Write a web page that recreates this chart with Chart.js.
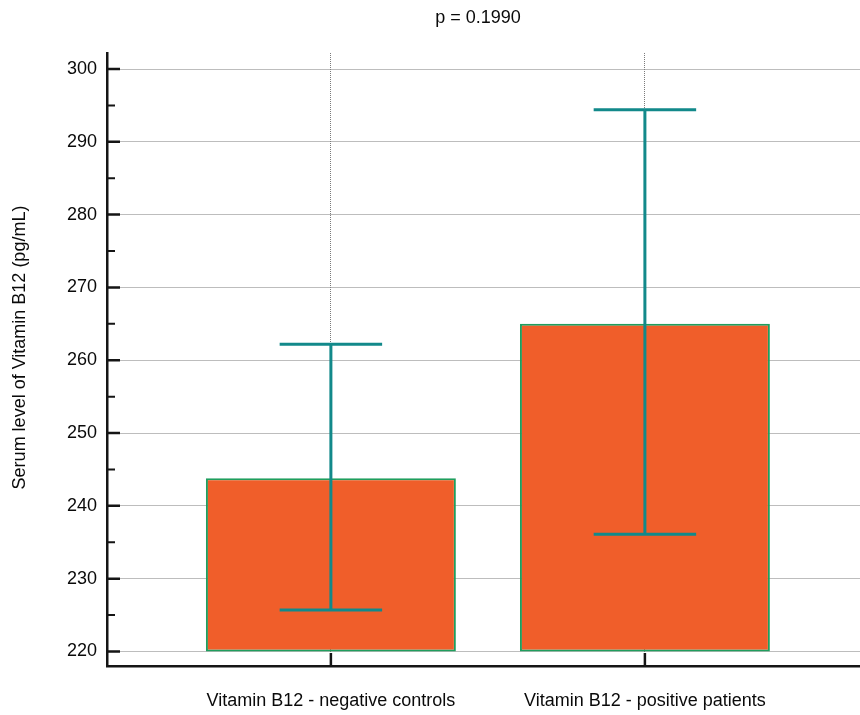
<!DOCTYPE html>
<html><head><meta charset="utf-8">
<script src="https://cdn.jsdelivr.net/npm/chart.js@4/dist/chart.umd.min.js"></script>
<style>html,body{margin:0;padding:0;background:#fff}</style>
</head><body>
<canvas id="c" width="860" height="715"></canvas>
<script>
const categories = ["Vitamin B12 - negative controls", "Vitamin B12 - positive patients"];
const means = [243.8, 265.0];
const lowerErr = [225.7, 236.1];
const upperErr = [262.2, 294.4];
const barBase = 220;
const yTicks = [220, 230, 240, 250, 260, 270, 280, 290, 300];
const yMinorTicks = [225, 235, 245, 255, 265, 275, 285, 295];
const titleText = "p = 0.1990";
const yTitleText = "Serum level of Vitamin B12 (pg/mL)";

const FONT = '"Liberation Sans", Arial, sans-serif';
const TXT = '#0a0a0a';
const AXIS = '#151515';
const GRID = '#7a7a7a';

const overlay = {
  id: 'overlay',
  afterDatasetsDraw(chart) {
    const ctx = chart.ctx;
    const xs = chart.scales.x, ys = chart.scales.y;
    const meta = chart.getDatasetMeta(0);
    ctx.save();
    ctx.setLineDash([]);
    // error bars
    ctx.strokeStyle = '#12898a';
    ctx.lineWidth = 3;
    ctx.lineCap = 'butt';
    means.forEach((m, i) => {
      const x = xs.getPixelForValue(i + 1);
      const yl = ys.getPixelForValue(lowerErr[i]);
      const yu = ys.getPixelForValue(upperErr[i]);
      const hw = meta.data[i].width * 0.205;
      ctx.beginPath();
      ctx.moveTo(x, yl); ctx.lineTo(x, yu);
      ctx.moveTo(x - hw, yu); ctx.lineTo(x + hw, yu);
      ctx.moveTo(x - hw, yl); ctx.lineTo(x + hw, yl);
      ctx.stroke();
    });
    // inward ticks on y axis
    const left = chart.chartArea.left;
    ctx.strokeStyle = AXIS;
    ctx.lineWidth = 2.5;
    ctx.beginPath();
    yTicks.forEach(v => { const y = ys.getPixelForValue(v); ctx.moveTo(left, y); ctx.lineTo(left + 13, y); });
    ctx.stroke();
    ctx.lineWidth = 2;
    ctx.beginPath();
    yMinorTicks.forEach(v => { const y = ys.getPixelForValue(v); ctx.moveTo(left, y); ctx.lineTo(left + 8, y); });
    ctx.stroke();
    // inward ticks on x axis
    const bottom = chart.chartArea.bottom;
    ctx.lineWidth = 2.5;
    ctx.beginPath();
    categories.forEach((c, i) => { const x = xs.getPixelForValue(i + 1); ctx.moveTo(x, bottom); ctx.lineTo(x, bottom - 13); });
    ctx.stroke();
    // titles
    ctx.fillStyle = TXT;
    ctx.font = '18px ' + FONT;
    ctx.textAlign = 'center';
    ctx.textBaseline = 'middle';
    ctx.fillText(titleText, 478, 18);
    ctx.translate(20, 347.5);
    ctx.rotate(-Math.PI / 2);
    ctx.fillText(yTitleText, 0, 0);
    ctx.restore();
  }
};

new Chart(document.getElementById('c'), {
  type: 'bar',
  data: {
    datasets: [{
      data: means.map((m, i) => ({ x: i + 1, y: [barBase, m] })),
      backgroundColor: '#f05e2a',
      borderColor: '#1f9e5e',
      borderWidth: 2,
      borderSkipped: false,
      barPercentage: 0.796,
      categoryPercentage: 1.0
    }]
  },
  options: {
    responsive: false,
    animation: false,
    devicePixelRatio: 1,
    layout: { padding: { top: 53, left: 0, right: 0, bottom: 0 } },
    plugins: { legend: { display: false }, title: { display: false }, tooltip: { enabled: false } },
    scales: {
      x: {
        type: 'linear',
        min: 0.287,
        max: 2.685,
        offset: false,
        afterBuildTicks: s => { s.ticks = categories.map((c, i) => ({ value: i + 1 })); },
        afterFit: s => { s.height = 49; },
        ticks: {
          callback: v => categories[v - 1],
          autoSkip: false, maxRotation: 0, minRotation: 0,
          padding: 24,
          color: TXT,
          font: { family: FONT, size: 18 }
        },
        grid: { color: GRID, lineWidth: 1, drawTicks: false, offset: false },
        border: { display: true, color: AXIS, width: 2.5, dash: [1, 1] }
      },
      y: {
        min: 218,
        max: 302.2,
        afterBuildTicks: s => { s.ticks = yTicks.map(v => ({ value: v })); },
        afterFit: s => { s.width = 107; },
        ticks: {
          padding: 10,
          color: TXT,
          font: { family: FONT, size: 18 }
        },
        grid: { color: GRID, lineWidth: 1, drawTicks: false },
        border: { display: true, color: AXIS, width: 2.5, dash: [1, 1] }
      }
    }
  },
  plugins: [overlay]
});
</script>
</body></html>
